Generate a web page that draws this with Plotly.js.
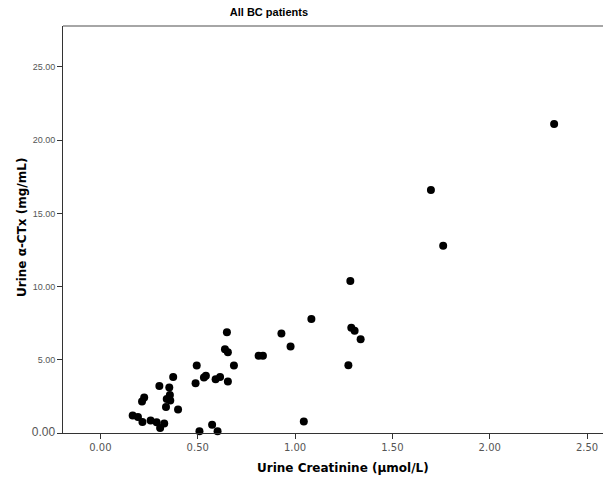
<!DOCTYPE html>
<html>
<head>
<meta charset="utf-8">
<script src="https://cdn.plot.ly/plotly-3.0.1.min.js"></script>
<style>html,body{margin:0;padding:0;background:#fff;}#chart{width:603px;height:479px;}</style>
</head>
<body>
<div id="chart"></div>
<script>
// Urine Creatinine (µmol/L)
const creatinine = [2.331, 1.698, 1.761, 1.284, 1.084, 1.289, 1.306, 1.337, 1.274, 1.045,
  0.930, 0.977, 0.813, 0.835, 0.650, 0.640, 0.655, 0.686, 0.655, 0.495,
  0.489, 0.532, 0.542, 0.592, 0.615, 0.374, 0.303, 0.354, 0.357, 0.341,
  0.359, 0.337, 0.399, 0.225, 0.214, 0.166, 0.193, 0.216, 0.258, 0.289,
  0.328, 0.307, 0.509, 0.574, 0.602];
// Urine α-CTx (mg/mL)
const ctx = [21.11, 16.60, 12.79, 10.38, 7.79, 7.19, 6.99, 6.40, 4.62, 0.79,
  6.80, 5.91, 5.28, 5.28, 6.88, 5.72, 5.51, 4.61, 3.52, 4.61,
  3.39, 3.79, 3.91, 3.67, 3.83, 3.83, 3.21, 3.11, 2.60, 2.32,
  2.22, 1.78, 1.61, 2.42, 2.15, 1.20, 1.09, 0.75, 0.85, 0.74,
  0.65, 0.34, 0.12, 0.56, 0.12];
const xTickVals = [0, 0.5, 1, 1.5, 2, 2.5];
const xTickText = ['0.00', '0.50', '1.00', '1.50', '2.00', '2.50'];
const yTickVals = [0, 5, 10, 15, 20, 25];
const yTickText = ['<span style="font-size:12px">0.00</span>', '5.00', '10.00', '15.00', '20.00', '25.00'];

const trace = {
  x: creatinine, y: ctx, type: 'scatter', mode: 'markers',
  marker: {color: '#000', size: 8, line: {width: 0}},
  cliponaxis: false, hoverinfo: 'x+y'
};
const layout = {
  width: 603, height: 479,
  margin: {l: 63, r: 0, t: 26, b: 46, pad: 0},
  paper_bgcolor: '#fff', plot_bgcolor: '#fff',
  showlegend: false,
  title: {text: '<b>All BC patients</b>', font: {family: 'Liberation Sans, Arial, sans-serif', size: 11, color: '#000'},
          xref: 'container', x: 0.446, xanchor: 'center', yref: 'container', y: 0.975, yanchor: 'middle'},
  xaxis: {
    range: [-0.192, 2.582], showgrid: false, zeroline: false,
    showline: true, linecolor: '#333', linewidth: 1,
    ticks: 'outside', ticklen: 5, tickcolor: '#333', tickwidth: 1,
    tickvals: xTickVals, ticktext: xTickText,
    tickfont: {family: 'DejaVu Sans, Verdana, sans-serif', size: 10, color: '#555'},
    title: {text: ''}
  },
  yaxis: {
    range: [0, 27.8], showgrid: false, zeroline: false,
    showline: true, linecolor: '#333', linewidth: 1,
    ticks: 'outside', ticklen: 5, tickcolor: '#333', tickwidth: 1,
    tickvals: yTickVals, ticktext: yTickText,
    tickfont: {family: 'Liberation Sans Narrow, Arial Narrow, Liberation Sans, sans-serif', size: 9, color: '#555'},
    title: {text: ''}
  },
  shapes: [{type: 'line', xref: 'paper', yref: 'paper', x0: 0, x1: 1, y0: 1, y1: 1,
            line: {color: '#888', width: 1.5}}],
  annotations: [
    {text: '<b>Urine Creatinine (µmol/L)</b>', xref: 'paper', yref: 'paper',
     x: (343 - 63) / 540, y: -(468 - 433) / 407, xanchor: 'center', yanchor: 'middle', showarrow: false,
     font: {family: 'DejaVu Sans, Verdana, sans-serif', size: 12, color: '#000'}},
    {text: '<b>Urine α-CTx (mg/mL)</b>', xref: 'paper', yref: 'paper', textangle: -90,
     x: -(63 - 22) / 540, y: (433 - 228) / 407, xanchor: 'center', yanchor: 'middle', showarrow: false,
     font: {family: 'DejaVu Sans, Verdana, sans-serif', size: 12, color: '#000'}}
  ]
};
Plotly.newPlot('chart', [trace], layout, {displayModeBar: false, staticPlot: true});
</script>
</body>
</html>
